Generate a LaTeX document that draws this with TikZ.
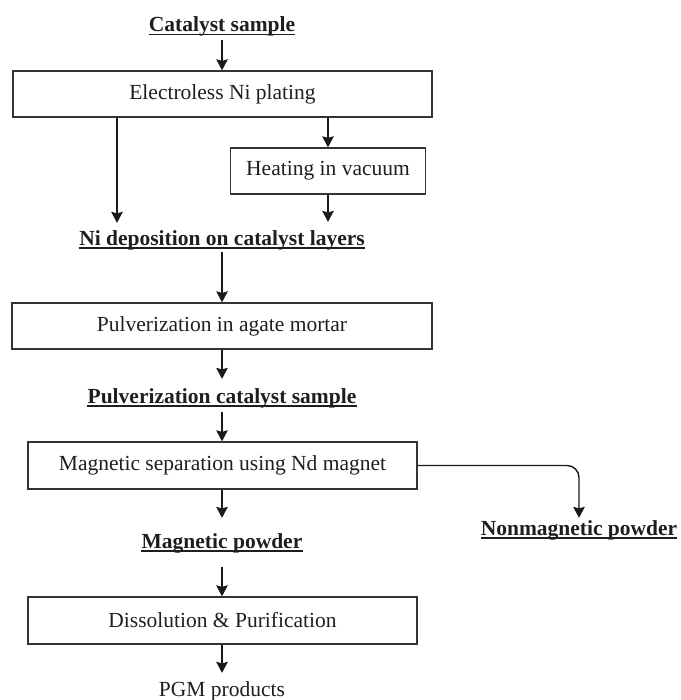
\documentclass[tikz,border=0pt]{standalone}
\usepackage{fontspec}
\setmainfont{Liberation Serif}
\usetikzlibrary{arrows.meta}
\definecolor{boxc}{HTML}{333333}
\definecolor{txtc}{HTML}{1E1E1E}
\definecolor{arrc}{HTML}{1A1A1A}
\begin{document}
\begin{tikzpicture}[x=1pt,y=-1pt,
  box/.style={draw=boxc, line width=1.3pt, inner sep=0pt, font=\fontsize{21.5}{24}\selectfont, text=txtc},
  lbl/.style={inner sep=0pt, anchor=base, font=\fontsize{21.5}{24}\selectfont\bfseries, text=txtc},
  plainlbl/.style={inner sep=0pt, anchor=base, font=\fontsize{21.5}{24}\selectfont, text=txtc},
  arr/.style={draw=arrc, line width=1.4pt, -{Stealth[length=11pt,width=11.5pt,inset=1.5pt]}},
  uline/.style={draw=txtc, line width=1.3pt}]
\useasboundingbox (0,0) rectangle (680,700);

\node[lbl] (cat) at (222,31.5) {Catalyst sample};
\node[box, minimum width=419pt, minimum height=46pt] (ele) at (222.5,94) {Electroless Ni plating};
\node[box, minimum width=195pt, minimum height=46pt] (heat) at (328,171) {Heating in vacuum};
\node[lbl] (nid) at (222,245) {Ni deposition on catalyst layers};
\node[box, minimum width=420pt, minimum height=46pt] (pul) at (222,326) {Pulverization in agate mortar};
\node[lbl] (pcs) at (222,403) {Pulverization catalyst sample};
\node[box, minimum width=389pt, minimum height=47pt] (mag) at (222.5,465.5) {Magnetic separation using Nd magnet};
\node[lbl] (mp) at (222,548) {Magnetic powder};
\node[lbl] (nmp) at (579,535) {Nonmagnetic powder};
\node[box, minimum width=389pt, minimum height=47pt] (dis) at (222.5,620.5) {Dissolution \& Purification};
\node[plainlbl] (pgm) at (222,696) {PGM products};

\foreach \n in {cat,nid,pcs,mp,nmp}{
  \draw[uline] ([yshift=-3pt]\n.base west) -- ([yshift=-3pt]\n.base east);
}

\coordinate (lx) at (117,0);
\draw[arr, shorten <=4pt] (cat.south) -- (cat.south |- ele.north);
\draw[arr, shorten >=7pt] (ele.south -| lx) -- (nid.north -| lx);
\draw[arr] (ele.south -| heat.north) -- (heat.north);
\draw[arr, shorten >=8pt] (heat.south) -- (nid.north -| heat.south);
\draw[arr, shorten <=2pt] (nid.south) -- (nid.south |- pul.north);
\draw[arr, shorten >=9pt] (pul.south -| pcs.north) -- (pcs.north);
\draw[arr, shorten <=4pt] (pcs.south) -- (pcs.south |- mag.north);
\draw[arr, shorten >=15pt] (mag.south -| mp.north) -- (mp.north);
\draw[arr, shorten <=14pt] (mp.south) -- (mp.south |- dis.north);
\draw[arr, shorten >=8pt] (dis.south -| pgm.north) -- (pgm.north);
\draw[arr, rounded corners=12pt, shorten >=2pt] (mag.east) -| (nmp.north);
\end{tikzpicture}
\end{document}
